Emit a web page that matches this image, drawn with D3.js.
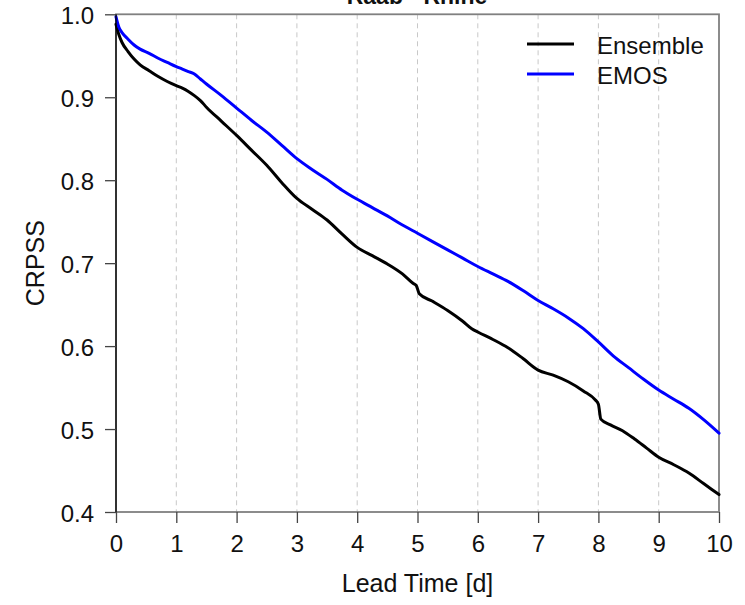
<!DOCTYPE html>
<html>
<head>
<meta charset="utf-8">
<script src="https://cdn.jsdelivr.net/npm/d3@7"></script>
<style>
  html, body { margin: 0; padding: 0; background: #fff; }
  svg { display: block; }
  text { font-family: "Liberation Sans", Arial, sans-serif; fill: #111; }
</style>
</head>
<body>
<div id="chart"></div>
<script>
const title = "Raab - Rhine";
const seriesNames = ["Ensemble", "EMOS"];
const seriesColors = ["#000000", "#0000ff"];

const ensembleX = [0, 0.05, 0.1, 0.2, 0.3, 0.4, 0.55, 0.7, 0.85, 1.0, 1.1, 1.2, 1.3, 1.4, 1.5, 1.75, 2.0, 2.25, 2.5, 2.75, 3.0, 3.25, 3.5, 3.75, 4.0, 4.25, 4.5, 4.75, 4.92, 4.98, 5.03, 5.25, 5.5, 5.75, 5.9, 6.0, 6.25, 6.5, 6.75, 7.0, 7.25, 7.5, 7.75, 7.95, 8.0, 8.04, 8.2, 8.4, 8.6, 8.8, 9.0, 9.25, 9.5, 9.75, 10];
const ensembleY = [0.988, 0.975, 0.966, 0.955, 0.946, 0.939, 0.932, 0.925, 0.919, 0.914, 0.911, 0.907, 0.902, 0.896, 0.888, 0.871, 0.854, 0.836, 0.818, 0.797, 0.778, 0.765, 0.752, 0.735, 0.719, 0.709, 0.699, 0.687, 0.676, 0.673, 0.663, 0.654, 0.643, 0.630, 0.621, 0.617, 0.608, 0.598, 0.585, 0.571, 0.565, 0.557, 0.546, 0.535, 0.530, 0.512, 0.505, 0.498, 0.488, 0.477, 0.466, 0.457, 0.447, 0.434, 0.421];

const emosX = [0, 0.05, 0.1, 0.2, 0.3, 0.4, 0.55, 0.7, 0.85, 1.0, 1.1, 1.2, 1.3, 1.4, 1.5, 1.75, 2.0, 2.25, 2.5, 2.75, 3.0, 3.25, 3.5, 3.75, 4.0, 4.25, 4.5, 4.75, 5.0, 5.25, 5.5, 5.75, 6.0, 6.25, 6.5, 6.75, 7.0, 7.25, 7.5, 7.75, 8.0, 8.25, 8.5, 8.75, 9.0, 9.25, 9.5, 9.75, 10];
const emosY = [0.997, 0.984, 0.978, 0.970, 0.963, 0.958, 0.953, 0.947, 0.942, 0.937, 0.934, 0.931, 0.928, 0.922, 0.916, 0.902, 0.887, 0.872, 0.858, 0.842, 0.826, 0.813, 0.801, 0.788, 0.777, 0.767, 0.757, 0.746, 0.736, 0.726, 0.716, 0.706, 0.696, 0.687, 0.678, 0.667, 0.655, 0.645, 0.634, 0.621, 0.605, 0.588, 0.574, 0.560, 0.547, 0.536, 0.525, 0.511, 0.495];

const xTicks = [0, 1, 2, 3, 4, 5, 6, 7, 8, 9, 10];
const yTicks = [0.4, 0.5, 0.6, 0.7, 0.8, 0.9, 1.0];
const gridX = [1, 2, 3, 4, 5, 6, 7, 8, 9];
const xLabel = "Lead Time [d]";
const yLabel = "CRPSS";

const W = 745, H = 605;
const L = 116, R = 719, T = 14.3, B = 512;

const svg = d3.select("#chart").append("svg").attr("width", W).attr("height", H);
const x = d3.scaleLinear().domain([0, 10]).range([L, R]);
const y = d3.scaleLinear().domain([0.4, 1.0]).range([B, T]);

// grid
svg.append("g").selectAll("line").data(gridX).join("line")
  .attr("x1", d => x(d)).attr("x2", d => x(d))
  .attr("y1", T).attr("y2", B)
  .attr("stroke", "#c8c8c8").attr("stroke-width", 1).attr("stroke-dasharray", "5,4");

// frame
svg.append("rect").attr("x", L).attr("y", T).attr("width", R - L).attr("height", B - T)
  .attr("fill", "none").attr("stroke", "#808080").attr("stroke-width", 1.8);

// lines
const series = [
  { name: seriesNames[0], color: seriesColors[0], xs: ensembleX, ys: ensembleY },
  { name: seriesNames[1], color: seriesColors[1], xs: emosX, ys: emosY }
];
const lineGen = d3.line().x(d => x(d[0])).y(d => y(d[1])).curve(d3.curveMonotoneX);
series.forEach(s => {
  const pts = s.xs.map((v, i) => [v, s.ys[i]]);
  svg.append("path").datum(pts).attr("d", lineGen)
    .attr("fill", "none").attr("stroke", s.color).attr("stroke-width", 3)
    .attr("stroke-linejoin", "round").attr("stroke-linecap", "round");
});

// left axis line
svg.append("line").attr("x1", L).attr("x2", L).attr("y1", T).attr("y2", B)
  .attr("stroke", "#000").attr("stroke-width", 1.3);

// x axis
const xAxis = d3.axisBottom(x).tickValues(xTicks).tickFormat(d3.format("d")).tickSize(11).tickPadding(10);
const gx = svg.append("g").attr("transform", `translate(0,${B})`).call(xAxis);
gx.select(".domain").remove();
gx.selectAll(".tick line").attr("stroke", "#444").attr("stroke-width", 1.3);
gx.selectAll(".tick text").attr("font-size", 24).attr("font-family", "Liberation Sans, Arial, sans-serif")
  .attr("fill", "#111").attr("dy", null).attr("y", 40);

// y axis
const yAxis = d3.axisLeft(y).tickValues(yTicks).tickFormat(d3.format(".1f")).tickSize(11).tickPadding(10);
const gy = svg.append("g").attr("transform", `translate(${L},0)`).call(yAxis);
gy.select(".domain").remove();
gy.selectAll(".tick line").attr("stroke", "#444").attr("stroke-width", 1.3);
gy.selectAll(".tick text").attr("font-size", 24).attr("font-family", "Liberation Sans, Arial, sans-serif")
  .attr("fill", "#111").attr("x", -22).attr("dy", "0.38em");

// title (cut off at top, as in the reference)
svg.append("text").attr("x", 417).attr("y", 4).attr("text-anchor", "middle")
  .attr("font-size", 23).attr("font-weight", "bold").text(title);

// axis labels
svg.append("text").attr("x", (L + R) / 2).attr("y", 592).attr("text-anchor", "middle")
  .attr("font-size", 25).text(xLabel);
svg.append("text").attr("transform", `translate(44,${(T + B) / 2}) rotate(-90)`)
  .attr("text-anchor", "middle").attr("font-size", 25).text(yLabel);

// legend
const lg = svg.append("g");
series.forEach((s, i) => {
  const ly = 44 + i * 30;
  lg.append("line").attr("x1", 527).attr("x2", 574).attr("y1", ly).attr("y2", ly)
    .attr("stroke", s.color).attr("stroke-width", 3);
  lg.append("text").attr("x", 597).attr("y", ly + 10).attr("font-size", 24).text(s.name);
});
</script>
</body>
</html>
